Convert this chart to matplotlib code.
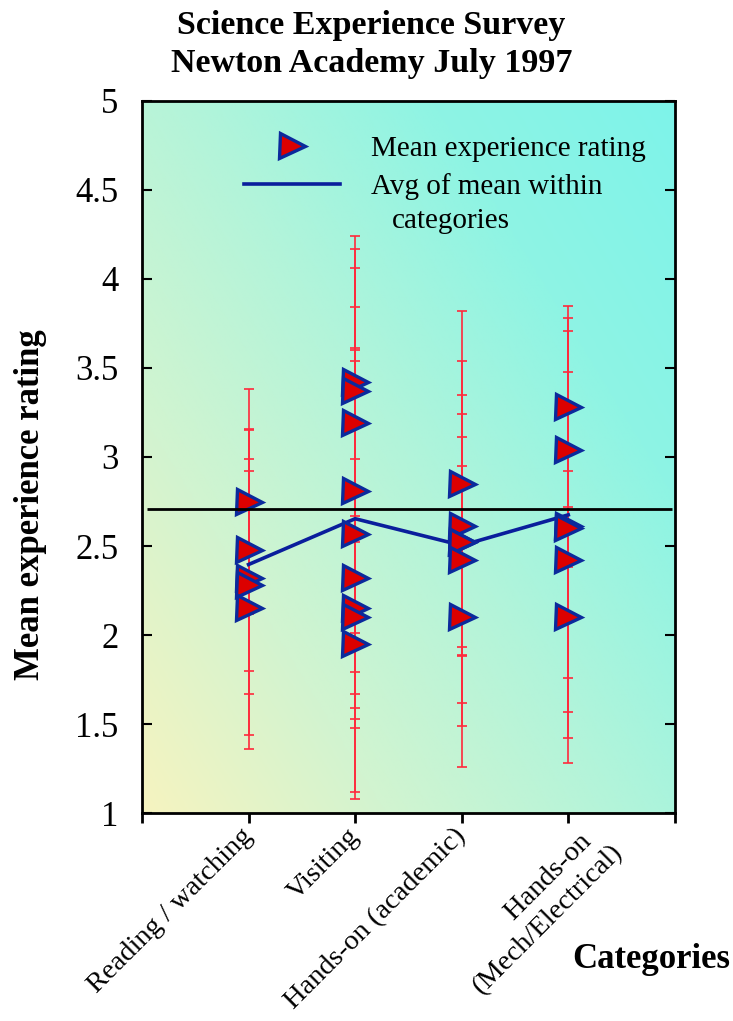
import numpy as np
import matplotlib
matplotlib.use('Agg')
import matplotlib.pyplot as plt
from matplotlib.colors import LinearSegmentedColormap
from matplotlib.ticker import FormatStrFormatter
import matplotlib.transforms as mtransforms

# 类别
cat_x = [1, 2, 3, 4]
cat_names = ['Reading / watching', 'Visiting', 'Hands-on (academic)',
             'Hands-on  \n(Mech/Electrical)']

# 每个类别的平均值和误差棒上下端
reading_mean = [2.75, 2.48, 2.32, 2.28, 2.15]
reading_hi = [3.38, 3.16, 2.99, 3.15, 2.92]
reading_lo = [2.12, 1.80, 1.67, 1.44, 1.36]

visiting_mean = [3.42, 3.37, 3.19, 2.81, 2.57, 2.32, 2.15, 2.10, 1.95]
visiting_hi = [4.17, 4.24, 4.06, 3.84, 3.61, 3.54, 3.60, 2.99, 2.52]
visiting_lo = [2.67, 1.59, 2.01, 1.79, 1.53, 1.08, 1.12, 1.48, 1.67]

academic_mean = [2.85, 2.61, 2.52, 2.52, 2.42, 2.10]
academic_hi = [3.82, 3.35, 3.54, 3.11, 3.24, 2.95]
academic_lo = [1.88, 1.89, 1.49, 1.93, 1.62, 1.26]

mech_mean = [3.28, 3.04, 2.61, 2.60, 2.42, 2.10]
mech_hi = [3.85, 3.71, 3.48, 3.78, 3.27, 2.92]
mech_lo = [2.72, 2.38, 1.76, 1.42, 1.57, 1.28]

grand_line = 2.71

groups = [
    (reading_mean, reading_lo, reading_hi),
    (visiting_mean, visiting_lo, visiting_hi),
    (academic_mean, academic_lo, academic_hi),
    (mech_mean, mech_lo, mech_hi),
]

plt.rcParams['font.family'] = ['Liberation Serif', 'DejaVu Serif']

fig = plt.figure(figsize=(7.33, 10.21), dpi=100)
ax = fig.add_axes([0.1937, 0.2037, 0.727, 0.6974])

# 背景渐变（左下黄 -> 右上青）
gx, gy = np.meshgrid(np.linspace(0, 1, 300), np.linspace(0, 1, 300))
grad = (gx * 0.55 + gy * 0.45)
cmap = LinearSegmentedColormap.from_list(
    'bg', ['#f6f3c0', '#d2f4d0', '#b2f4da', '#8ef4e4', '#7ef3ea'])
ax.imshow(grad, extent=[0, 1, 0, 1], transform=ax.transAxes, origin='lower',
          cmap=cmap, aspect='auto', zorder=0, interpolation='bilinear')

avg_vals = []
for xc, (m, lo, hi) in zip(cat_x, groups):
    m = np.array(m)
    lo = np.array(lo)
    hi = np.array(hi)
    xs = np.full(len(m), xc)
    ax.errorbar(xs, m, yerr=[m - lo, hi - m], fmt='none', ecolor='#ff2a3c',
                elinewidth=1.2, capsize=3.6, capthick=1.2, zorder=2)
    avg_vals.append(m.mean())

avg_line, = ax.plot(cat_x, avg_vals, color='#0a1e9c', lw=2.6, zorder=3,
                    label='Avg of mean within')

for xc, (m, lo, hi) in zip(cat_x, groups):
    pts, = ax.plot(np.full(len(m), xc), m, linestyle='none', marker='>',
                   ms=18, mfc='#dc0000', mec='#0b2a9c', mew=2.4, zorder=4,
                   label='Mean experience rating')

ax.hlines(grand_line, 0.05, 4.97, color='black', lw=2, zorder=5)

ax.set_xlim(0, 5)
ax.set_ylim(1, 5)
ax.set_yticks(np.arange(1, 5.01, 0.5))
ax.yaxis.set_major_formatter(FormatStrFormatter('%g'))
ax.tick_params(axis='y', direction='in', left=True, right=True, length=7,
               width=1.5, labelsize=25, pad=17)
ax.set_xticks([0, 1, 2, 3, 4, 5])
ax.set_xticklabels([''] + cat_names + [''], rotation=45, ha='right',
                   va='center', rotation_mode='anchor', fontsize=20.5,
                   multialignment='right')
ax.tick_params(axis='x', direction='out', length=7, width=2, pad=7)
for s in ax.spines.values():
    s.set_linewidth(2)

# 第四个标签是两行，单独往右挪一点
lab4 = ax.get_xticklabels()[4]
lab4.set_transform(lab4.get_transform() +
                   mtransforms.ScaledTranslation(0.40, -0.06, fig.dpi_scale_trans))

# 图例
leg = ax.legend(handles=[pts, avg_line], loc='upper left',
                bbox_to_anchor=(0.191, 0.951), frameon=False, fontsize=21,
                numpoints=1, handlelength=3.3, handletextpad=1.05,
                labelspacing=0.36, borderpad=0, borderaxespad=0)
ax.text(0.469, 0.832, 'categories', transform=ax.transAxes, fontsize=21,
        ha='left', va='center')

fig.text(0.507, 0.990, 'Science Experience Survey\nNewton Academy July 1997',
         ha='center', va='top', fontsize=24.5, fontweight='bold',
         linespacing=1.28)
fig.text(0.041, 0.506, 'Mean experience rating', rotation=90, ha='center',
         va='center', fontsize=25, fontweight='bold')
fig.text(0.996, 0.06, 'Categories', ha='right', va='center', fontsize=25,
         fontweight='bold')

fig.savefig('out.png', dpi=100)
